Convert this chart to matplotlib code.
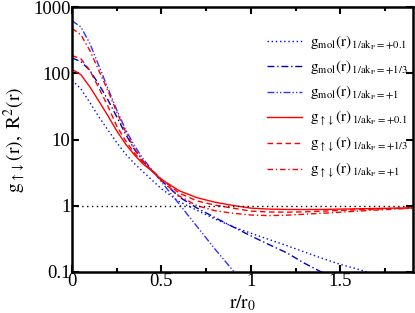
import matplotlib
matplotlib.use("Agg")
import matplotlib.pyplot as plt

plt.rcParams['font.family'] = ['Liberation Serif', 'DejaVu Serif']
plt.rcParams['mathtext.fontset'] = 'stix'

# sample positions r/r0 (shared)
r = [0.0, 0.05, 0.1, 0.15, 0.2, 0.25, 0.3, 0.35, 0.4, 0.45, 0.5, 0.6, 0.7, 0.8, 0.9,
     1.0, 1.1, 1.2, 1.3, 1.4, 1.5, 1.6, 1.7, 1.8, 1.9]

# molecular R^2(r)
gmol_01 = [78, 58, 36, 22, 14, 9, 6, 4.3, 3.2, 2.4, 1.8, 1.15, 0.85, 0.63, 0.48,
           0.385, 0.31, 0.25, 0.2, 0.16, 0.13, 0.11, 0.09, 0.075, 0.062]
gmol_13 = [170, 150, 110, 68, 40, 22, 12, 7, 4.6, 3.3, 2.4, 1.35, 0.92, 0.66, 0.48,
           0.35, 0.26, 0.195, 0.135, 0.098, 0.07, 0.05, 0.036, 0.026, 0.019]
gmol_1 = [620, 500, 280, 130, 60, 28, 14, 8, 5, 3.4, 2.3, 1.05, 0.48, 0.22, 0.105,
          0.05, 0.024, 0.012, 0.006, 0.003, 0.0015, 0.0008, 0.0004, 0.0002, 0.0001]

# pair correlation g_updown(r)
gud_01 = [115, 95, 62, 38, 23, 13.5, 8.5, 5.8, 4.2, 3.3, 2.5, 1.68, 1.32, 1.13, 1.01,
          0.92, 0.89, 0.88, 0.878, 0.88, 0.89, 0.9, 0.91, 0.92, 0.93]
gud_13 = [185, 165, 110, 60, 32, 16, 9.5, 6.2, 4.4, 3.4, 2.5, 1.55, 1.18, 1.02, 0.92,
          0.83, 0.805, 0.8, 0.81, 0.83, 0.85, 0.87, 0.89, 0.91, 0.925]
gud_1 = [475, 380, 220, 110, 55, 26, 13, 7.2, 4.6, 3.3, 2.4, 1.4, 1.0, 0.84, 0.77,
         0.725, 0.71, 0.72, 0.745, 0.77, 0.8, 0.83, 0.86, 0.89, 0.915]

labels = [
    r'$\mathrm{g_{mol}(r)}_{\,1/\mathrm{ak_F}=+0.1}$',
    r'$\mathrm{g_{mol}(r)}_{\,1/\mathrm{ak_F}=+1/3}$',
    r'$\mathrm{g_{mol}(r)}_{\,1/\mathrm{ak_F}=+1}$',
    r'$\mathrm{g_{\uparrow\downarrow}(r)}_{\,1/\mathrm{ak_F}=+0.1}$',
    r'$\mathrm{g_{\uparrow\downarrow}(r)}_{\,1/\mathrm{ak_F}=+1/3}$',
    r'$\mathrm{g_{\uparrow\downarrow}(r)}_{\,1/\mathrm{ak_F}=+1}$',
]

fig = plt.figure(figsize=(4.15, 3.13), dpi=100)
ax = fig.add_axes([0.1735, 0.131, 0.8215, 0.8466])

lw = 1.0
ax.plot(r, gmol_01, color='#0000ff', lw=lw, dashes=(1, 2), label=labels[0])
ax.plot(r, gmol_13, color='#0000cc', lw=lw, dashes=(5, 2, 1, 2), label=labels[1])
ax.plot(r, gmol_1, color='#3333ff', lw=lw, dashes=(5, 1.5, 1, 1.5, 1, 1.5), label=labels[2])
ax.plot(r, gud_01, color='#ff0000', lw=lw, label=labels[3])
ax.plot(r, gud_13, color='#ff0000', lw=lw, dashes=(4, 2.5), label=labels[4])
ax.plot(r, gud_1, color='#ff0000', lw=lw, dashes=(4, 2, 1, 2), label=labels[5])
ax.axhline(1.0, color='black', lw=1.0, dashes=(1, 2.5))

ax.set_yscale('log')
ax.set_xlim(0, 1.905)
ax.set_ylim(0.1, 1000)
ax.set_xticks([0, 0.5, 1, 1.5])
ax.set_xticklabels(['0', '0.5', '1', '1.5'])
ax.set_xticks([0.25, 0.75, 1.25, 1.75], minor=True)
ax.set_yticks([0.1, 1, 10, 100, 1000])
ax.set_yticklabels(['0.1', '1', '10', '100', '1000'])
ax.yaxis.set_minor_locator(matplotlib.ticker.NullLocator())
ax.tick_params(which='both', direction='in', top=True, right=True, labelsize=13.5, width=1.5)
ax.tick_params(which='major', length=5, pad=1)
ax.tick_params(which='minor', length=3)
for s in ax.spines.values():
    s.set_linewidth(1.8)

ax.set_xlabel(r'$\mathrm{r/r_0}$', fontsize=14, labelpad=2)
ax.set_ylabel(r'$\mathrm{g_{\uparrow\downarrow}(r),\ R^{2}(r)}$', fontsize=14, labelpad=3)

leg = ax.legend(loc='upper left', bbox_to_anchor=(0.555, 0.925), frameon=False, fontsize=11,
                handlelength=2.3, handletextpad=0.5, labelspacing=0.45, borderaxespad=0)

fig.savefig('out.png', dpi=100)
